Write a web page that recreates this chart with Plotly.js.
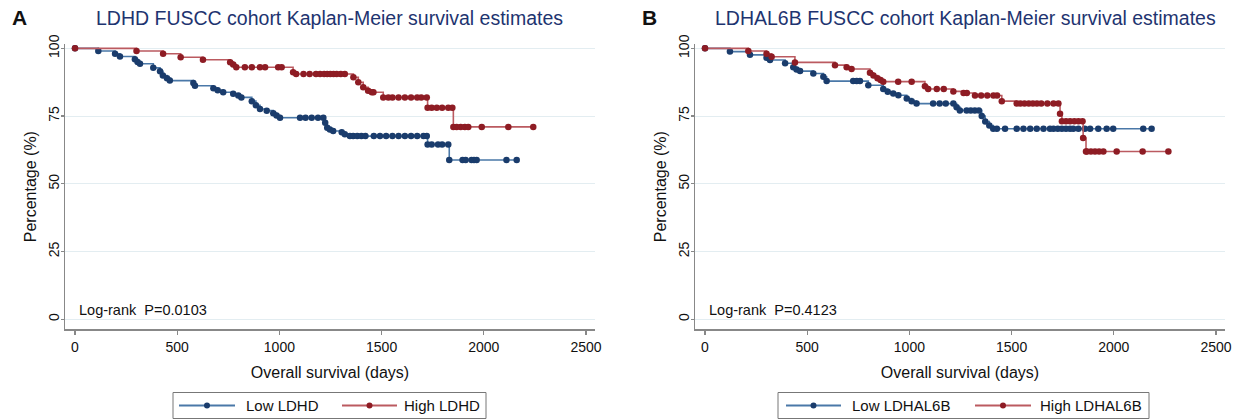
<!DOCTYPE html>
<html>
<head>
<meta charset="utf-8">
<script src="https://cdn.plot.ly/plotly-3.0.1.min.js"></script>
<style>
html,body{margin:0;padding:0;background:#fff;}
#chart{width:1246px;height:420px;}
</style>
</head>
<body>
<div id="chart"></div>
<script>
// ---- Data (days, survival %) ----
const lowLdhdT = [0,114,196,220,293,306,318,383,416,430,450,464,579,587,677,698,725,774,799,814,865,885,905,938,970,986,1003,1101,1128,1158,1189,1215,1224,1234,1247,1263,1305,1320,1345,1361,1381,1401,1421,1462,1492,1522,1553,1583,1614,1644,1674,1705,1721,1725,1745,1776,1796,1826,1831,1896,1911,1940,1952,1965,2111,2161];
const lowLdhdS = [100,99.0,98.0,97.0,96.0,95.0,94.3,92.8,91.5,90.0,89.0,88.1,87.2,86.2,85.3,84.5,83.8,83.2,82.6,81.9,80.5,79.0,77.6,77.0,76.0,75.2,74.4,74.4,74.4,74.4,74.4,74.4,72.5,70.7,70.0,69.5,69.0,68.3,67.6,67.6,67.6,67.6,67.6,67.6,67.6,67.6,67.6,67.6,67.6,67.6,67.6,67.6,67.6,64.5,64.5,64.5,64.5,64.5,58.8,58.8,58.8,58.8,58.8,58.8,58.8,58.8];

const highLdhdT = [0,301,431,517,626,759,774,789,831,865,905,930,994,1011,1067,1082,1118,1148,1179,1199,1219,1234,1249,1265,1280,1300,1320,1362,1386,1410,1434,1452,1460,1508,1533,1553,1583,1614,1644,1674,1694,1721,1725,1745,1770,1796,1826,1846,1851,1867,1887,1907,1924,1990,2120,2242];
const highLdhdS = [100,99.0,98.0,96.7,95.8,94.9,94.0,93.0,93.0,93.0,93.0,93.0,93.0,93.0,91.2,90.5,90.5,90.5,90.5,90.5,90.5,90.5,90.5,90.5,90.5,90.5,90.5,89.3,87.5,85.6,84.3,83.8,83.8,81.9,81.9,81.9,81.9,81.9,81.9,81.9,81.9,81.9,78.1,78.1,78.1,78.1,78.1,78.1,71.0,71.0,71.0,71.0,71.0,71.0,71.0,71.0];

const lowL6bT = [0,122,220,301,318,392,432,448,465,530,579,595,725,742,758,799,872,894,921,946,987,1011,1035,1116,1148,1178,1215,1231,1247,1280,1300,1320,1340,1354,1371,1391,1410,1428,1468,1525,1558,1591,1623,1656,1688,1705,1726,1746,1766,1786,1802,1827,1858,1884,1924,1965,1997,2144,2185];
const lowL6bS = [100,98.8,97.6,96.5,95.7,94.5,93.0,92.2,91.6,90.7,89.5,87.9,87.9,87.9,87.9,86.4,85.0,84.0,83.3,82.7,81.5,80.5,79.6,79.6,79.6,79.6,79.6,78.3,77.1,77.1,77.1,77.1,77.1,75.0,73.0,71.5,70.3,70.3,70.3,70.3,70.3,70.3,70.3,70.3,70.3,70.3,70.3,70.3,70.3,70.3,70.3,70.3,70.3,70.3,70.3,70.3,70.3,70.3,70.3];

const highL6bT = [0,212,301,326,440,636,693,717,807,824,844,859,872,945,1011,1076,1092,1134,1168,1215,1265,1281,1321,1351,1381,1411,1429,1452,1525,1543,1563,1584,1604,1624,1645,1675,1705,1729,1737,1746,1766,1786,1807,1827,1847,1850,1864,1868,1888,1908,1928,1949,2014,2141,2267];
const highL6bS = [100,99.0,98.0,96.9,94.8,93.8,93.0,92.4,91.0,90.0,89.0,88.3,87.7,87.7,87.7,86.0,85.0,85.0,85.0,84.1,83.5,83.5,82.6,82.6,82.6,82.6,82.6,80.5,79.6,79.6,79.6,79.6,79.6,79.6,79.6,79.6,79.6,79.6,75.9,73.1,73.1,73.1,73.1,73.1,73.1,66.9,61.9,61.9,61.9,61.9,61.9,61.9,61.9,61.9,61.9];

const seriesNames = ["Low LDHD", "High LDHD", "Low LDHAL6B", "High LDHAL6B"];
const panelTitles = ["LDHD FUSCC cohort Kaplan-Meier survival estimates", "LDHAL6B FUSCC cohort Kaplan-Meier survival estimates"];
const panelLetters = ["A", "B"];
const pValues = ["Log-rank  P=0.0103", "Log-rank  P=0.4123"];
const xTicks = [0,500,1000,1500,2000,2500];
const yTicks = [0,25,50,75,100];

// ---- Styles ----
const FONT = "Liberation Sans, Arial, sans-serif";
const blueLine = "#4a78a8", blueMk = "#1a3c6c";
const redLine = "#bb5a60", redMk = "#8e1c24";
const axisCol = "#888";

function tr(x, y, name, lc, mc, xa, ya) {
  return {
    x: x, y: y, name: name, type: "scatter", mode: "lines+markers",
    line: {shape: "hv", color: lc, width: 1.6},
    marker: {color: mc, size: 6.5},
    xaxis: xa, yaxis: ya, showlegend: false
  };
}

const data = [
  tr(lowLdhdT, lowLdhdS, seriesNames[0], blueLine, blueMk, "x", "y"),
  tr(highLdhdT, highLdhdS, seriesNames[1], redLine, redMk, "x", "y"),
  tr(lowL6bT, lowL6bS, seriesNames[2], blueLine, blueMk, "x2", "y2"),
  tr(highL6bT, highL6bS, seriesNames[3], redLine, redMk, "x2", "y2")
];

const W = 1246, H = 420;
const px = v => v / W, py = v => 1 - v / H;
const XR = [-48.9, 2544], YR = [-3.7, 101.6];

function xax(d0, d1, anchor) {
  return {
    domain: [px(d0), px(d1)], range: XR, anchor: anchor,
    tickvals: xTicks, ticktext: xTicks.map(String),
    showline: true, linecolor: axisCol, linewidth: 1.5, ticks: "outside", ticklen: 4, tickcolor: axisCol, tickwidth: 1.2,
    showgrid: false, zeroline: false, tickfont: {family: FONT, size: 14, color: "#111"},
    title: {text: "Overall survival (days)", font: {family: FONT, size: 16, color: "#111"}, standoff: 13}
  };
}
function yax(anchor) {
  return {
    domain: [py(329.3), py(44)], range: YR, anchor: anchor,
    tickvals: yTicks, ticktext: yTicks.map(String), tickangle: -90, ticklabelstandoff: -4,
    showline: true, linecolor: axisCol, linewidth: 1.5, ticks: "outside", ticklen: 3, tickcolor: axisCol, tickwidth: 1.2,
    showgrid: true, gridcolor: "#e3edf1", gridwidth: 1, zeroline: false,
    tickfont: {family: FONT, size: 14, color: "#111"},
    title: {text: "Percentage (%)", font: {family: FONT, size: 16, color: "#111"}, standoff: 5}
  };
}

const annotations = [];
const shapes = [];
function ann(text, x, y, xanchor, size, color) {
  annotations.push({text: text, x: px(x), y: py(y), xref: "paper", yref: "paper", xanchor: xanchor, yanchor: "middle",
    showarrow: false, font: {family: FONT, size: size, color: color}});
}
// letters, titles, p-values
ann("<b>" + panelLetters[0] + "</b>", 10, 18, "left", 21, "#111");
ann("<b>" + panelLetters[1] + "</b>", 640, 18, "left", 21, "#111");
ann(panelTitles[0], 330, 18, "center", 19.5, "#1e3470");
ann(panelTitles[1], 965, 18, "center", 19.5, "#1e3470");
ann(pValues[0], 77, 310, "left", 14.5, "#111");
ann(pValues[1], 707, 310, "left", 14.5, "#111");

// manual legends (box, line sample with marker, label)
function legend(box, items) {
  shapes.push({type: "rect", xref: "paper", yref: "paper", x0: px(box[0]), x1: px(box[1]), y0: py(box[3]), y1: py(box[2]),
    line: {color: "#777", width: 1}, fillcolor: "#fff"});
  items.forEach(it => {
    const yc = (box[2] + box[3]) / 2;
    shapes.push({type: "line", xref: "paper", yref: "paper", x0: px(it.l0), x1: px(it.l1), y0: py(yc), y1: py(yc),
      line: {color: it.lc, width: 2}});
    const mx = (it.l0 + it.l1) / 2, r = 3;
    shapes.push({type: "circle", xref: "paper", yref: "paper", x0: px(mx - r), x1: px(mx + r), y0: py(yc + r), y1: py(yc - r),
      line: {color: it.mc, width: 0}, fillcolor: it.mc});
    ann(it.name, it.tx, yc, "left", 15, "#111");
  });
}
legend([173, 486, 392.5, 418.5], [
  {l0: 179, l1: 235, tx: 244, name: seriesNames[0], lc: blueLine, mc: blueMk},
  {l0: 342, l1: 397, tx: 402, name: seriesNames[1], lc: redLine, mc: redMk}
]);
legend([778, 1149, 392.5, 418.5], [
  {l0: 786, l1: 841, tx: 850, name: seriesNames[2], lc: blueLine, mc: blueMk},
  {l0: 975, l1: 1031, tx: 1038, name: seriesNames[3], lc: redLine, mc: redMk}
]);

const layout = {
  width: W, height: H,
  margin: {l: 0, r: 0, t: 0, b: 0},
  paper_bgcolor: "#fff", plot_bgcolor: "#fff",
  showlegend: false,
  xaxis: xax(65, 595, "y"),
  yaxis: yax("x"),
  xaxis2: xax(695, 1225, "y2"),
  yaxis2: yax("x2"),
  annotations: annotations,
  shapes: shapes
};

Plotly.newPlot("chart", data, layout, {staticPlot: true, displayModeBar: false});
</script>
</body>
</html>
